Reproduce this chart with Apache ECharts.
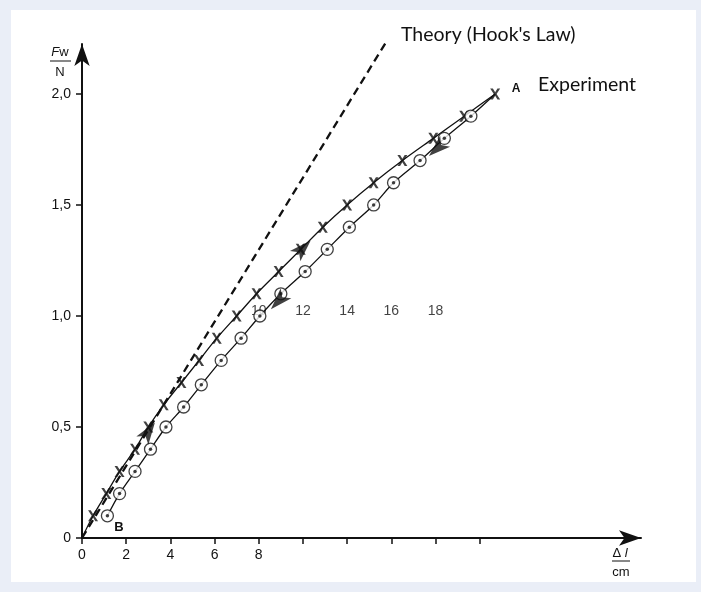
<!DOCTYPE html>
<html><head><meta charset="utf-8">
<script src="https://cdn.jsdelivr.net/npm/echarts@6/dist/echarts.min.js"></script>
<style>html,body{margin:0;padding:0;background:#EAEEF7}#c{width:701px;height:592px}</style>
</head><body><div id="c"></div>
<script>
// Loading curve (X markers), starts at origin and ends at A
const loadX = [0, 0.5, 1.1, 1.7, 2.4, 3.0, 3.7, 4.5, 5.3, 6.1, 7.0, 7.9, 8.9, 9.9, 10.9, 12.0, 13.2, 14.5, 15.9, 17.3, 18.7];
const loadF = [0, 0.1, 0.2, 0.3, 0.4, 0.5, 0.6, 0.7, 0.8, 0.9, 1.0, 1.1, 1.2, 1.3, 1.4, 1.5, 1.6, 1.7, 1.8, 1.9, 2.0];
// Unloading curve (circle markers), from A down to B
const unloadX = [17.6, 16.4, 15.3, 14.1, 13.2, 12.1, 11.1, 10.1, 9.0, 8.05, 7.2, 6.3, 5.4, 4.6, 3.8, 3.1, 2.4, 1.7, 1.15];
const unloadF = [1.9, 1.8, 1.7, 1.6, 1.5, 1.4, 1.3, 1.2, 1.1, 1.0, 0.9, 0.8, 0.69, 0.59, 0.5, 0.4, 0.3, 0.2, 0.1];
// Theory (Hooke's law) straight line
const theoryX = [0, 13.82];
const theoryF = [0, 2.243];
// Axis ticks / labels
const xTicks = [0, 2, 4, 6, 8, 10, 12, 14, 16, 18];
const xTickLabels = [0, 2, 4, 6, 8];
const yTicks = [0, 0.5, 1.0, 1.5, 2.0];
const yTickLabels = ['0', '0,5', '1,0', '1,5', '2,0'];
// Stray tick labels printed inside the plot
const floatLabelX = [8, 10, 12, 14, 16];
const floatLabelF = [1.02, 1.02, 1.02, 1.02, 1.02];
const floatLabels = ['10', '12', '14', '16', '18'];
// Direction arrows on the curves
const arrowUpX = [3.3, 10.35];
const arrowUpF = [0.52, 1.34];
const arrowDownX = [15.7, 8.55];
const arrowDownF = [1.72, 1.03];

const zip = (a, b) => a.map((v, i) => [v, b[i]]);
const loadPts = zip(loadX, loadF);
const unloadPts = [loadPts[loadPts.length - 1]].concat(zip(unloadX, unloadF));
const ink = '#111111';
const tickFont = 'Liberation Sans';
const xSymbol = 'path://M0,0L2.7,0L5,3.7L7.3,0L10,0L6.4,5.5L10,11L7.3,11L5,7.3L2.7,11L0,11L3.6,5.5Z';

const chart = echarts.init(document.getElementById('c'), null, {renderer: 'canvas'});

function baseOption(upRot, downRot) {
  return {
    backgroundColor: '#EAEEF7',
    animation: false,
    grid: {left: 82, right: 60, top: 44, bottom: 54},
    xAxis: {
      type: 'value', min: 0, max: 25.3,
      axisLine: {show: true, onZero: false, symbol: ['none', 'arrow'], symbolSize: [11.5, 22], lineStyle: {color: ink, width: 2}},
      axisTick: {show: true, customValues: xTicks, length: 6, lineStyle: {color: ink, width: 1.5}},
      axisLabel: {show: true, customValues: xTickLabels, margin: 10, color: ink, fontFamily: tickFont, fontSize: 14},
      splitLine: {show: false}
    },
    yAxis: {
      type: 'value', min: 0, max: 2.225,
      axisLine: {show: true, onZero: false, symbol: ['none', 'arrow'], symbolSize: [11.5, 22], lineStyle: {color: ink, width: 2}},
      axisTick: {show: true, customValues: yTicks, length: 6, lineStyle: {color: ink, width: 1.5}},
      axisLabel: {show: true, customValues: yTicks, margin: 11, color: ink, fontFamily: tickFont, fontSize: 14,
        formatter: v => { const i = yTicks.findIndex(t => Math.abs(t - v) < 1e-6); return i >= 0 ? yTickLabels[i] : ''; }},
      splitLine: {show: false}
    },
    graphic: [
      {type: 'rect', z: -10, shape: {x: 11, y: 10, width: 685, height: 572}, style: {fill: '#ffffff'}},
      {type: 'text', x: 401, y: 35, style: {text: "Theory (Hook's Law)", font: '19.5px Lato', fill: ink, align: 'left', verticalAlign: 'middle', textAlign: 'left', textVerticalAlign: 'middle'}},
      {type: 'text', x: 538, y: 85, style: {text: 'Experiment', font: '19.5px Lato', fill: ink, align: 'left', verticalAlign: 'middle', textAlign: 'left', textVerticalAlign: 'middle'}},
      {type: 'text', x: 516, y: 89, style: {text: 'A', font: 'bold 12px Liberation Sans', fill: ink, align: 'center', verticalAlign: 'middle', textAlign: 'center', textVerticalAlign: 'middle'}},
      {type: 'text', x: 119, y: 527, style: {text: 'B', font: 'bold 13px Liberation Sans', fill: ink, align: 'center', verticalAlign: 'middle', textAlign: 'center', textVerticalAlign: 'middle'}},
      {type: 'text', x: 60, y: 52, style: {text: '{i|F}{r|w}', rich: {i: {fontStyle: 'italic', fontFamily: tickFont, fontSize: 13, fill: ink, color: ink}, r: {fontFamily: tickFont, fontSize: 13, fill: ink, color: ink}}, align: 'center', verticalAlign: 'middle', textAlign: 'center', textVerticalAlign: 'middle'}},
      {type: 'line', shape: {x1: 50, y1: 61, x2: 71, y2: 61}, style: {stroke: ink, lineWidth: 1}},
      {type: 'text', x: 60, y: 72, style: {text: 'N', font: '13px Liberation Sans', fill: ink, align: 'center', verticalAlign: 'middle', textAlign: 'center', textVerticalAlign: 'middle'}},
      {type: 'text', x: 620, y: 553, style: {text: '{r|Δ }{i|l}', rich: {i: {fontStyle: 'italic', fontFamily: tickFont, fontSize: 13, fill: ink, color: ink}, r: {fontFamily: tickFont, fontSize: 13, fill: ink, color: ink}}, align: 'center', verticalAlign: 'middle', textAlign: 'center', textVerticalAlign: 'middle'}},
      {type: 'line', shape: {x1: 612, y1: 561, x2: 630, y2: 561}, style: {stroke: ink, lineWidth: 1}},
      {type: 'text', x: 621, y: 572, style: {text: 'cm', font: '13px Liberation Sans', fill: ink, align: 'center', verticalAlign: 'middle', textAlign: 'center', textVerticalAlign: 'middle'}}
    ],
    series: [
      {type: 'line', data: zip(theoryX, theoryF), symbol: 'none', silent: true, z: 2,
        lineStyle: {color: ink, width: 2.3, type: [8, 5]}},
      {type: 'line', data: loadPts, smooth: 0.3, symbol: 'none', z: 3, lineStyle: {color: ink, width: 1.3}},
      {type: 'line', data: unloadPts, smooth: 0.3, symbol: 'none', z: 3, lineStyle: {color: ink, width: 1.3}},
      {type: 'scatter', data: loadPts.slice(1), symbol: xSymbol, symbolSize: [10, 11], z: 5,
        itemStyle: {color: ink}},
      {type: 'scatter', data: zip(unloadX, unloadF), symbol: 'circle', symbolSize: 12, z: 5,
        itemStyle: {color: '#ffffff', borderColor: ink, borderWidth: 1.3}},
      {type: 'scatter', data: zip(unloadX, unloadF), symbol: 'circle', symbolSize: 3.5, z: 6,
        itemStyle: {color: ink}},
      {type: 'scatter', data: zip(arrowUpX, arrowUpF).map((p, i) => ({value: p, symbolRotate: upRot[i]})),
        symbol: 'arrow', symbolSize: [11, 22], z: 7, itemStyle: {color: ink}},
      {type: 'scatter', data: zip(arrowDownX, arrowDownF).map((p, i) => ({value: p, symbolRotate: downRot[i]})),
        symbol: 'arrow', symbolSize: [11, 22], z: 7, itemStyle: {color: ink}},
      {type: 'scatter', data: zip(floatLabelX, floatLabelF), symbol: 'circle', symbolSize: 1, z: 4,
        itemStyle: {color: 'rgba(0,0,0,0)'},
        label: {show: true, position: 'inside', formatter: p => floatLabels[p.dataIndex], color: ink, fontFamily: tickFont, fontSize: 14}}
    ]
  };
}

chart.setOption(baseOption([0, 0], [0, 0]));

function dirAngle(pts, x) {
  // find segment of the curve nearest x and return the rotation for an upward-pointing arrow
  let best = 0, bd = Infinity;
  for (let i = 0; i < pts.length - 1; i++) {
    const mx = (pts[i][0] + pts[i + 1][0]) / 2;
    const d = Math.abs(mx - x);
    if (d < bd) { bd = d; best = i; }
  }
  const a = chart.convertToPixel({gridIndex: 0}, pts[best]);
  const b = chart.convertToPixel({gridIndex: 0}, pts[best + 1]);
  const theta = Math.atan2(-(b[1] - a[1]), b[0] - a[0]) * 180 / Math.PI;
  return theta - 90;
}
const upRot = arrowUpX.map(x => dirAngle(loadPts, x));
const downRot = arrowDownX.map(x => dirAngle(unloadPts, x));
chart.setOption(baseOption(upRot, downRot));
</script>
</body></html>
